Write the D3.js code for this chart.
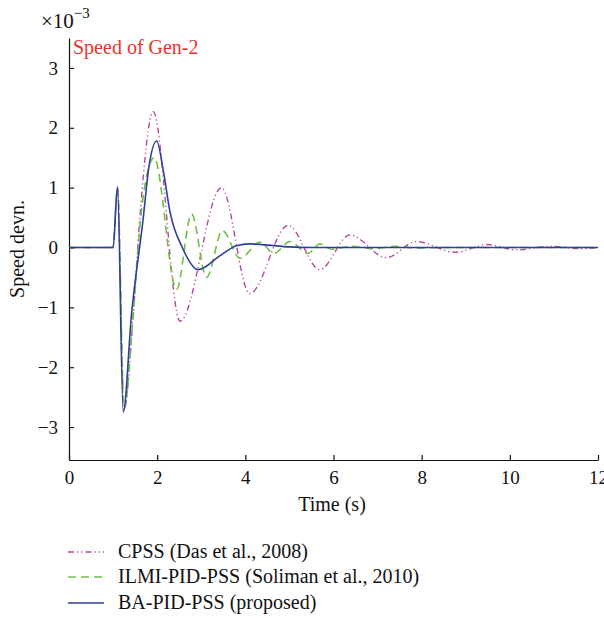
<!DOCTYPE html>
<html>
<head>
<meta charset="utf-8">
<script src="https://cdn.jsdelivr.net/npm/d3@7.9.0/dist/d3.min.js"></script>
<style>
  body { margin: 0; background: #fff; }
  svg { font-family: "Liberation Serif", "DejaVu Serif", serif; }
  .axis text { font-family: "Liberation Serif", serif; font-size: 19px; fill: #111; }
  .axis path, .axis line { stroke: #111; stroke-width: 1.2; }
</style>
</head>
<body>
<svg id="chart" width="604" height="618"></svg>
<script>
// values (speed deviation in units of 1e-3)
const cpssT = [0, 1.0, 1.1, 1.25, 1.45, 1.61, 1.91, 2.52, 3.46, 4.10, 4.97, 5.69, 6.37, 7.2, 7.88, 8.75, 9.5, 10.15, 10.9, 11.6, 12];
const cpssV = [0, 0, 1.01, -2.7, -1.2, 0.53, 2.27, -1.23, 1.0, -0.77, 0.37, -0.37, 0.21, -0.17, 0.1, -0.08, 0.05, -0.04, 0.02, -0.02, 0];

const ilmiT = [0, 1.0, 1.1, 1.25, 1.45, 1.63, 1.93, 2.44, 2.78, 3.12, 3.48, 3.88, 4.33, 4.65, 5.01, 5.42, 5.69, 5.96, 6.4, 6.9, 7.4, 7.9, 8.5, 12];
const ilmiV = [0, 0, 1.0, -2.7, -1.2, 0.53, 1.5, -0.7, 0.56, -0.5, 0.28, -0.18, 0.09, -0.1, 0.1, -0.1, 0.06, -0.03, 0.02, -0.02, 0.02, -0.01, 0, 0];

const baT = [0, 1.0, 1.1, 1.23, 1.42, 1.69, 1.8, 1.99, 2.14, 2.29, 2.57, 2.93, 3.42, 3.8, 4.1, 4.5, 5.0, 5.5, 12];
const baV = [0, 0, 1.01, -2.75, -1.1, 0.53, 1.28, 1.78, 1.28, 0.6, 0, -0.37, -0.14, 0.03, 0.06, 0.04, 0.01, 0, 0];

const xTicks = [0, 2, 4, 6, 8, 10, 12];
const yTicks = [-3, -2, -1, 0, 1, 2, 3];

const seriesNames = ['CPSS (Das et al., 2008)', 'ILMI-PID-PSS (Soliman et al., 2010)', 'BA-PID-PSS (proposed)'];
const seriesColors = ['#b8479f', '#72bf44', '#2d3f98'];
const seriesDash = ['6,3,1.2,3,1.2,3', '8,5', null];
const seriesWidth = [1.4, 1.6, 1.6];

const svg = d3.select('#chart');

const x = d3.scaleLinear().domain([0, 12]).range([69, 598]);
const y = d3.scaleLinear().domain([-3.55, 3.5]).range([460, 38]);

// clip
svg.append('clipPath').attr('id', 'clip')
  .append('rect').attr('x', 69).attr('y', 38).attr('width', 529).attr('height', 422);

// axes (only left and bottom, ticks inward)
svg.append('g').attr('class', 'axis')
  .attr('transform', `translate(0,${y.range()[0]})`)
  .call(d3.axisBottom(x).tickValues(xTicks).tickFormat(d3.format('d'))
    .tickSizeInner(-5).tickSizeOuter(0).tickPadding(11));

svg.append('g').attr('class', 'axis')
  .attr('transform', `translate(${x.range()[0]},0)`)
  .call(d3.axisLeft(y).tickValues(yTicks).tickFormat(d3.format('d'))
    .tickSizeInner(-5).tickSizeOuter(0).tickPadding(11));

// lines
const series = [
  cpssT.map((t, i) => [t, cpssV[i]]),
  ilmiT.map((t, i) => [t, ilmiV[i]]),
  baT.map((t, i) => [t, baV[i]])
];

const line = d3.line()
  .x(d => x(d[0]))
  .y(d => y(d[1]))
  .curve(d3.curveMonotoneX);

const plot = svg.append('g').attr('clip-path', 'url(#clip)');
series.forEach((s, i) => {
  plot.append('path')
    .datum(s)
    .attr('d', line)
    .attr('fill', 'none')
    .attr('stroke', seriesColors[i])
    .attr('stroke-width', seriesWidth[i])
    .attr('stroke-dasharray', seriesDash[i])
    .attr('stroke-linejoin', 'round');
});

// exponent label
const expo = svg.append('text').attr('x', 41).attr('y', 28).attr('font-size', 21).attr('fill', '#111');
expo.append('tspan').text('×10');
expo.append('tspan').attr('dy', -10).attr('font-size', 15).text('−3');

// in-plot title
svg.append('text').attr('x', 73).attr('y', 54)
  .attr('font-size', 20).attr('fill', '#e8332d')
  .text('Speed of Gen-2');

// axis labels
svg.append('text')
  .attr('x', 332).attr('y', 511)
  .attr('text-anchor', 'middle').attr('font-size', 20).attr('fill', '#111')
  .text('Time (s)');

svg.append('text')
  .attr('transform', 'translate(24,249) rotate(-90)')
  .attr('text-anchor', 'middle').attr('font-size', 20).attr('fill', '#111')
  .text('Speed devn.');

// legend
const legend = svg.append('g');
const rowY = [552, 577, 603];
seriesNames.forEach((name, i) => {
  legend.append('line')
    .attr('x1', 68).attr('x2', 104)
    .attr('y1', rowY[i]).attr('y2', rowY[i])
    .attr('stroke', seriesColors[i])
    .attr('stroke-width', seriesWidth[i])
    .attr('stroke-dasharray', seriesDash[i]);
  legend.append('text')
    .attr('x', 118).attr('y', rowY[i] + 6)
    .attr('font-size', 20).attr('fill', '#111')
    .text(name);
});
</script>
</body>
</html>
